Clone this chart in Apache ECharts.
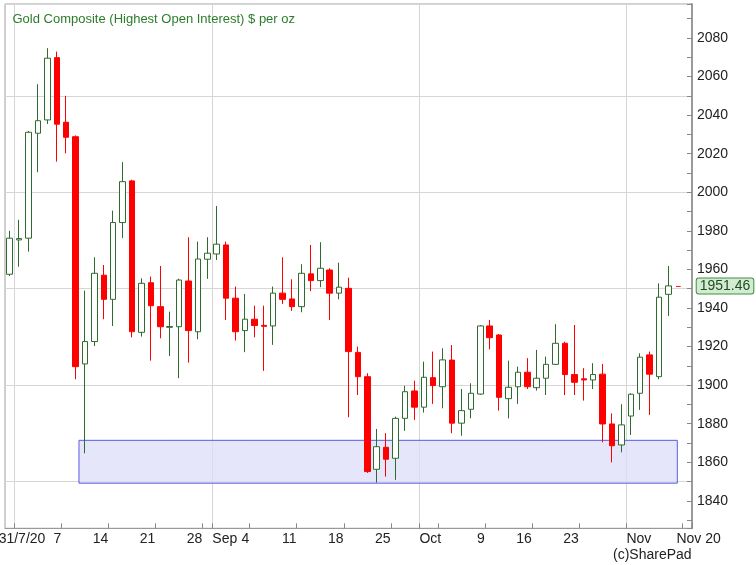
<!DOCTYPE html>
<html><head><meta charset="utf-8">
<script src="https://cdn.jsdelivr.net/npm/echarts@6/dist/echarts.min.js"></script>
<style>html,body{margin:0;padding:0;background:#fff}#c{width:756px;height:565px}</style>
</head><body><div id="c"></div>
<script>
// ---- categories (trading days, plus two empty slots at the right) ----
const dates = [
 '2020-07-31',
 '2020-08-03','2020-08-04','2020-08-05','2020-08-06','2020-08-07',
 '2020-08-10','2020-08-11','2020-08-12','2020-08-13','2020-08-14',
 '2020-08-17','2020-08-18','2020-08-19','2020-08-20','2020-08-21',
 '2020-08-24','2020-08-25','2020-08-26','2020-08-27','2020-08-28',
 '2020-08-31',
 '2020-09-01','2020-09-02','2020-09-03','2020-09-04',
 '2020-09-07','2020-09-08','2020-09-09','2020-09-10','2020-09-11',
 '2020-09-14','2020-09-15','2020-09-16','2020-09-17','2020-09-18',
 '2020-09-21','2020-09-22','2020-09-23','2020-09-24','2020-09-25',
 '2020-09-28','2020-09-29','2020-09-30',
 '2020-10-01','2020-10-02',
 '2020-10-05','2020-10-06','2020-10-07','2020-10-08','2020-10-09',
 '2020-10-12','2020-10-13','2020-10-14','2020-10-15','2020-10-16',
 '2020-10-19','2020-10-20','2020-10-21','2020-10-22','2020-10-23',
 '2020-10-26','2020-10-27','2020-10-28','2020-10-29','2020-10-30',
 '2020-11-02','2020-11-03','2020-11-04','2020-11-05','2020-11-06',
 '2020-11-09','2020-11-10'
];

// ---- OHLC values ($ per oz) ----
const opens = [
 1957.5,1975.3,1976.2,2030.6,2037.5,2069.8,2036.3,2028.8,1911.0,1922.6,
 1957.0,1944.5,1984.3,2005.9,1927.4,1953.1,1940.7,1930.0,1930.3,1954.0,
 1927.7,1965.3,1968.0,1972.7,1945.1,1928.3,1934.2,1931.0,1930.7,1947.7,
 1944.7,1940.7,1957.7,1954.2,1959.7,1947.7,1950.2,1917.0,1904.4,1856.4,
 1867.8,1862.1,1882.8,1897.0,1888.6,1903.9,1899.2,1913.0,1880.3,1887.5,
 1895.4,1930.7,1926.0,1893.0,1899.2,1906.7,1898.7,1903.6,1910.8,1921.7,
 1905.5,1903.3,1902.7,1905.7,1879.9,1869.0,1884.0,1895.8,1915.7,1904.4,
 1947.1
];
const closes = [
 1976.2,1976.0,2031.1,2037.1,2069.5,2035.3,2028.5,1909.6,1922.6,1958.0,
 1944.5,1984.3,2005.5,1927.7,1952.8,1941.2,1930.3,1930.4,1954.5,1928.3,
 1965.4,1968.4,1973.1,1945.1,1927.7,1934.2,1930.9,1930.5,1947.7,1944.5,
 1940.7,1958.0,1954.2,1960.6,1947.7,1950.8,1917.4,1904.4,1855.2,1868.1,
 1861.6,1882.8,1896.6,1888.6,1904.1,1899.8,1913.1,1880.3,1886.8,1895.8,
 1930.7,1924.6,1893.7,1898.9,1906.7,1899.2,1903.6,1910.8,1921.7,1905.5,
 1901.5,1902.7,1905.5,1879.9,1868.6,1879.4,1895.3,1914.5,1905.7,1945.6,
 1951.46
];
const lows = [
 1956.6,1961.4,1969.2,2010.4,2035.4,2015.9,2020.2,1903.1,1864.7,1920.3,
 1934.2,1930.7,1976.2,1924.8,1925.2,1912.7,1924.3,1915.1,1903.6,1911.7,
 1923.8,1955.1,1964.9,1933.8,1923.1,1917.1,1924.8,1907.4,1920.9,1942.1,
 1938.5,1937.8,1948.8,1950.8,1933.8,1944.5,1883.4,1894.9,1854.5,1849.5,
 1852.6,1850.9,1876.3,1882.0,1885.8,1890.3,1888.0,1875.1,1873.8,1882.8,
 1895.0,1918.6,1886.8,1882.8,1890.3,1898.0,1897.2,1894.9,1910.5,1894.9,
 1894.9,1892.0,1898.0,1870.4,1860.0,1865.2,1874.2,1887.2,1884.6,1903.1,
 1935.9
];
const highs = [
 1980.0,1985.7,2031.8,2056.0,2074.7,2072.9,2050.0,2029.5,1949.0,1966.3,
 1962.3,1990.5,2015.6,2006.5,1955.4,1956.3,1961.8,1938.1,1955.2,1976.7,
 1974.4,1976.7,1992.9,1974.4,1951.1,1947.3,1941.2,1941.2,1951.1,1966.3,
 1954.9,1962.7,1972.7,1974.1,1960.6,1963.5,1955.7,1920.0,1906.2,1877.3,
 1875.1,1883.7,1899.7,1902.3,1912.2,1917.4,1919.1,1920.8,1898.0,1901.0,
 1931.2,1933.8,1926.5,1912.7,1909.6,1914.0,1918.3,1914.8,1931.6,1922.5,
 1931.2,1908.8,1911.4,1911.0,1885.4,1890.1,1895.8,1916.5,1917.4,1952.8,
 1961.8
];

// ---- axis tick / label definitions ----
const tickStartDates = ['2020-08-03','2020-08-10','2020-08-17','2020-08-24','2020-08-31','2020-09-01',
  '2020-09-07','2020-09-14','2020-09-21','2020-09-28','2020-10-01','2020-10-05','2020-10-12',
  '2020-10-19','2020-10-26','2020-11-02','2020-11-10'];
const monthLineDates = ['2020-08-03','2020-09-01','2020-10-01','2020-11-02'];
const weekLabelDates = ['2020-08-06','2020-08-10','2020-08-17','2020-08-24','2020-08-31','2020-09-07',
  '2020-09-14','2020-09-21','2020-09-28','2020-10-12','2020-10-19','2020-10-26'];
const weekLabelTexts = ['31/7/20','7','14','21','28','4','11','18','25','9','16','23'];
const monthLabelDates = ['2020-08-31','2020-09-30','2020-10-30','2020-11-06'];
const monthLabelTexts = ['Sep','Oct','Nov','Nov 20'];

const yMin = 1825.8, yMax = 2097.6;
const zoneX = [7.36, 70.94];
const zoneY = [1849.2, 1871.4];
const lastPrice = 1951.46;
const lastMarkX = [70.8, 71.3];

const title = 'Gold Composite (Highest Open Interest) $ per oz';
const copyright = '(c)SharePad';

// ---- build ----
const FONT = 'Liberation Sans, Arial, sans-serif';
const idx = d => dates.indexOf(d);
const tickSet = new Set(tickStartDates.map(idx));
const monthSet = new Set(monthLineDates.map(idx));
const weekMap = {}; weekLabelDates.forEach((d, i) => weekMap[idx(d)] = weekLabelTexts[i]);
const monthMap = {}; monthLabelDates.forEach((d, i) => monthMap[idx(d)] = monthLabelTexts[i]);
const ohlc = opens.map((o, i) => [o, closes[i], lows[i], highs[i]]);

const chart = echarts.init(document.getElementById('c'), null, {renderer: 'canvas'});
chart.setOption({
  animation: false,
  backgroundColor: '#fff',
  title: {
    text: title, left: 12.5, top: 12.5, padding: 0,
    textStyle: {color: '#2a7d2a', fontSize: 13, fontWeight: 'normal', fontFamily: FONT}
  },
  graphic: [{
    type: 'text', left: 613, top: 548,
    style: {text: copyright, font: '14px ' + FONT, fill: '#222'}
  }],
  grid: {left: 5, top: 4, width: 687, height: 524.3, show: true, borderColor: '#a0a0a0', borderWidth: 1,
         containLabel: false, outerBoundsMode: 'none'},
  xAxis: [{
    type: 'category', data: dates, position: 'bottom', boundaryGap: true,
    axisLine: {show: true, onZero: false, lineStyle: {color: '#999', width: 1}},
    axisTick: {show: true, inside: true, length: 5, interval: i => tickSet.has(i), lineStyle: {color: '#888'}},
    splitLine: {show: true, interval: i => monthSet.has(i), lineStyle: {color: '#d6d6d6', width: 1}},
    axisLabel: {
      show: true, interval: i => weekMap[i] !== undefined, align: 'right', margin: 4,
      formatter: (v, i) => weekMap[i] === undefined ? '' :
        (weekMap[i] === '31/7/20' ? '{s|' + weekMap[i] + '}' : '{r|' + weekMap[i] + '}'),
      rich: {
        r: {padding: [0, 5, 0, 0], fontSize: 14, color: '#222', fontFamily: FONT},
        s: {padding: [0, 2, 0, 0], fontSize: 14, color: '#222', fontFamily: FONT}
      }
    }
  }, {
    type: 'category', data: dates, position: 'bottom', boundaryGap: true,
    axisLine: {show: false, onZero: false}, axisTick: {show: false}, splitLine: {show: false},
    axisLabel: {
      show: true, interval: i => monthMap[i] !== undefined, align: 'left', margin: 4,
      formatter: (v, i) => monthMap[i] === undefined ? '' :
        (monthMap[i] === 'Nov 20' ? '{e|' + monthMap[i] + '}' : '{m|' + monthMap[i] + '}'),
      rich: {
        m: {padding: [0, 0, 0, 5], fontSize: 14, color: '#222', fontFamily: FONT},
        e: {padding: [0, 0, 0, 8], fontSize: 14, color: '#222', fontFamily: FONT}
      }
    }
  }, {
    type: 'value', min: -0.5, max: 72.5, show: false,
    axisLine: {show: false, onZero: false}
  }],
  yAxis: [{
    type: 'value', position: 'right', min: yMin, max: yMax, scale: true,
    splitNumber: 27, minInterval: 10, maxInterval: 10,
    axisLine: {show: true, onZero: false, lineStyle: {color: '#9a9a9a', width: 2}},
    axisTick: {show: true, inside: true, length: 5, lineStyle: {color: '#888'}},
    splitLine: {show: false},
    axisLabel: {
      show: true, margin: 5, fontSize: 14, color: '#222', fontFamily: FONT,
      formatter: v => (Math.abs(v % 20) < 1e-6 ? String(Math.round(v)) : '')
    }
  }, {
    type: 'value', position: 'right', min: yMin, max: yMax, scale: true,
    splitNumber: 5, minInterval: 50, maxInterval: 50,
    axisLine: {show: false, onZero: false}, axisTick: {show: false}, axisLabel: {show: false},
    splitLine: {show: true, lineStyle: {color: '#d6d6d6', width: 1}}
  }],
  series: [{
    type: 'line', xAxisIndex: 2, yAxisIndex: 0, data: [], clip: false, z: 1,
    markArea: {
      silent: true,
      itemStyle: {color: 'rgba(222,222,248,0.75)', borderColor: '#5a5ae6', borderWidth: 1},
      data: [[{coord: [zoneX[0], zoneY[1]]}, {coord: [zoneX[1], zoneY[0]]}]]
    },
    markLine: {
      silent: true, symbol: ['none', 'none'], animation: false,
      lineStyle: {color: '#ff2020', width: 1, type: 'solid'},
      label: {
        show: true, position: 'end', distance: 16,
        formatter: () => lastPrice.toFixed(2),
        color: '#1e4d1e', fontSize: 14, fontFamily: FONT,
        backgroundColor: '#d3ebd3', borderColor: '#3f8f3f', borderWidth: 1,
        padding: [1, 3, 0, 3], borderRadius: 2
      },
      data: [[{coord: [lastMarkX[0], lastPrice]}, {coord: [lastMarkX[1], lastPrice]}]]
    }
  }, {
    type: 'candlestick', xAxisIndex: 0, yAxisIndex: 0, data: ohlc, barWidth: 6, z: 3,
    itemStyle: {color: '#ffffff', color0: '#ff0000', borderColor: '#2f6a2f', borderColor0: '#ff0000', borderWidth: 1}
  }]
});
</script>
</body></html>
